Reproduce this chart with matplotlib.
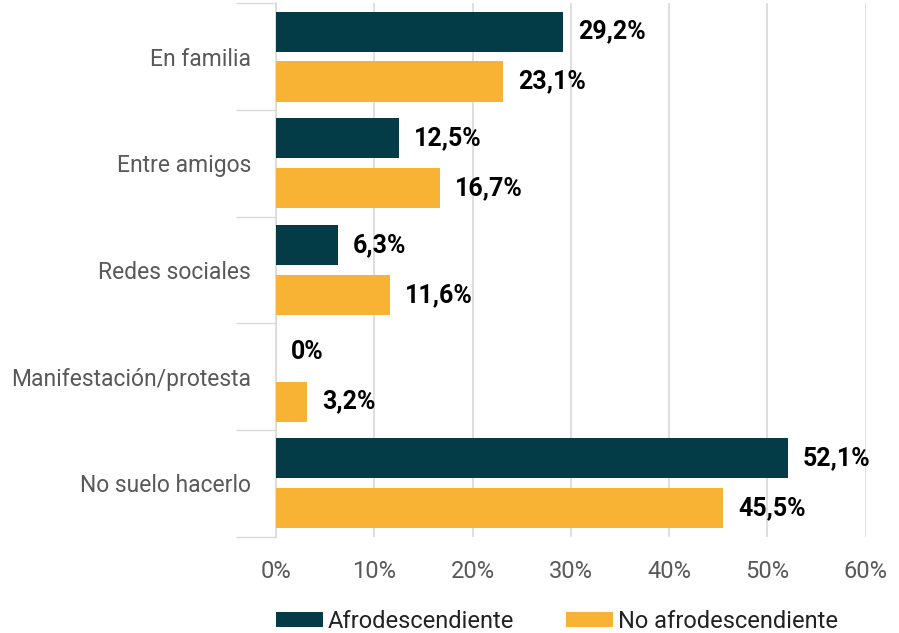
import numpy as np
import matplotlib
matplotlib.use("Agg")
import matplotlib.pyplot as plt
from matplotlib.ticker import FixedLocator

plt.rcParams['font.family'] = ['Roboto', 'DejaVu Sans']

# data
categories = ["En familia", "Entre amigos", "Redes sociales",
              "Manifestación/protesta", "No suelo hacerlo"]
afro = [29.2, 12.5, 6.3, 0.0, 52.1]
no_afro = [23.1, 16.7, 11.6, 3.2, 45.5]
series_names = ["Afrodescendiente", "No afrodescendiente"]
x_ticks = [0, 10, 20, 30, 40, 50, 60]

dark = "#033C46"
orange = "#F8B334"
grid_col = "#D9D9D9"
text_grey = "#595959"

fig = plt.figure(figsize=(8.99, 6.33), dpi=100)
ax = fig.add_axes([0.307, 0.152, 0.656, 0.843])

y = np.arange(len(categories))
h = 0.375
off = 0.234

ax.barh(y - off, afro, height=h, color=dark, label=series_names[0], zorder=3)
ax.barh(y + off, no_afro, height=h, color=orange, label=series_names[1], zorder=3)

def fmt(v):
    if v == 0:
        return "0%"
    return f"{v:.1f}".replace(".", ",") + "%"

for yi, a, b in zip(y, afro, no_afro):
    ax.text(a + 1.5, yi - off, fmt(a), va="center", ha="left",
            fontsize=18, fontweight="bold", color="black")
    ax.text(b + 1.5, yi + off, fmt(b), va="center", ha="left",
            fontsize=18, fontweight="bold", color="black")

ax.set_xlim(0, 60)
ax.set_ylim(len(categories) - 0.5, -0.5)
ax.set_xticks(x_ticks)
ax.set_xticklabels([f"{t}%" for t in x_ticks], fontsize=17, color=text_grey)
ax.set_yticks(y)
ax.set_yticklabels(categories, fontsize=16.5, color=text_grey)
ax.yaxis.set_minor_locator(FixedLocator(np.arange(-0.5, len(categories), 1.0)))

ax.tick_params(axis="y", which="major", length=0, pad=18)
ax.tick_params(axis="y", which="minor", length=29, width=1, color=grid_col)
ax.tick_params(axis="x", which="major", length=0, pad=17)

ax.grid(axis="x", color=grid_col, linewidth=1.2, zorder=0)
for side in ["top", "right", "bottom"]:
    ax.spines[side].set_visible(False)
ax.spines["left"].set_color(grid_col)
ax.spines["left"].set_linewidth(1.2)

leg = ax.legend(loc="center", bbox_to_anchor=(0.476, -0.158), ncol=2,
                frameon=False, fontsize=17, handlelength=2.0, handleheight=0.6,
                handletextpad=0.2, columnspacing=2.2)
for t in leg.get_texts():
    t.set_color("#222222")

fig.savefig("out.png", dpi=100)
